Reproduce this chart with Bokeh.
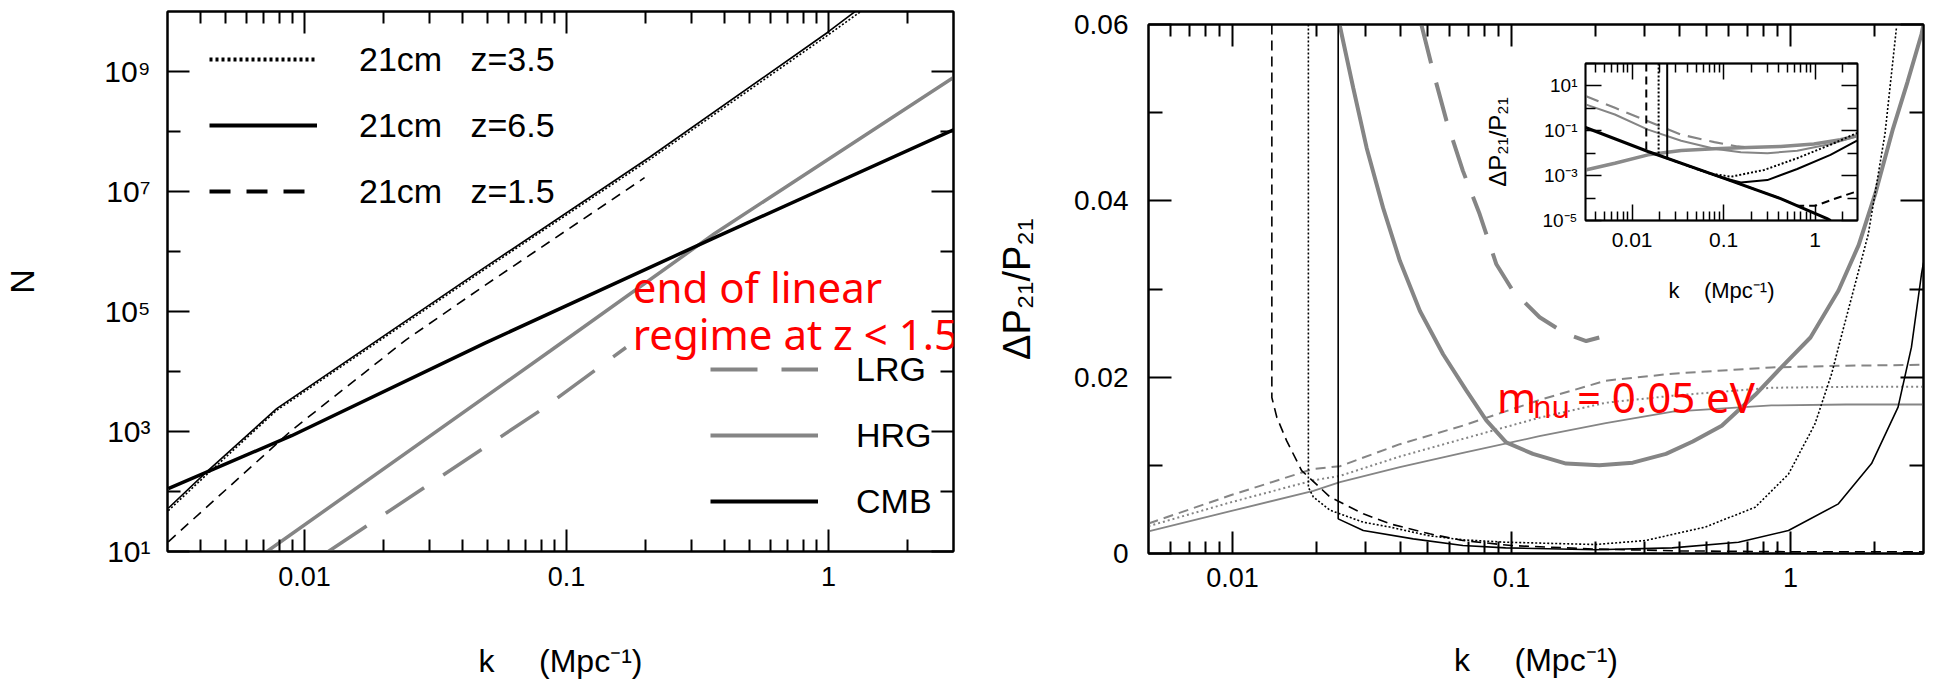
from math import pi
from bokeh.plotting import figure
from bokeh.models import (Range1d, FixedTicker, LogAxis, LinearAxis, Legend,
                          LegendItem, Label, GridBox)
from bokeh.embed import file_html
from bokeh.resources import INLINE

FONT = "Liberation Sans"
RED_FONT = "Noto Sans"
GRAY = "#858585"
NB = "\u00a0"

# ---------------- Left panel: number of modes N(k) ----------------
k_z35 = [0.00302, 0.00417, 0.00783, 0.0486, 0.2075, 0.991, 1.349]
N_z35 = [47.9, 180, 2250, 5.0e5, 3.4e7, 4.0e9, 1.05e10]
k_z65 = [0.00302, 0.00417, 0.00783, 0.0486, 0.2075, 0.991, 1.29]
N_z65 = [52.5, 200, 2400, 5.37e5, 3.72e7, 4.47e9, 1.07e10]
k_z15 = [0.00302, 0.00501, 0.00893, 0.02427, 0.0486, 0.1986]
N_z15 = [14.5, 107, 1047, 3.31e4, 2.69e5, 1.70e7]
k_cmb = [0.00302, 0.00893, 0.0486, 0.368, 3.0]
N_cmb = [112, 851, 2.95e4, 1.70e6, 1.07e8]
k_hrg = [0.00719, 0.0871, 0.368, 3.0]
N_hrg = [10, 2.24e4, 2.0e6, 7.94e8]
k_lrg = [0.01233, 0.0794, 0.1687]
N_lrg = [10, 2239, 2.51e4]

left_legend_top = ["21cm" + NB * 3 + "z=3.5", "21cm" + NB * 3 + "z=6.5", "21cm" + NB * 3 + "z=1.5"]
left_legend_bottom = ["LRG", "HRG", "CMB"]
left_xticks = [0.01, 0.1, 1]
left_xlabels = ["0.01", "0.1", "1"]
left_yticks = [1e1, 1e3, 1e5, 1e7, 1e9]
left_ylabels = ["10\u00b9", "10\u00b3", "10\u2075", "10\u2077", "10\u2079"]
left_yminor = [1e2, 1e4, 1e6, 1e8]

# ---------------- Right panel: Delta P21 / P21 ----------------
k_r15 = [0.01384, 0.01384, 0.01442, 0.01563, 0.0177, 0.02239, 0.02944, 0.03664,
         0.05093, 0.06699, 0.1, 0.2, 0.4, 1.0, 3.0]
v_r15 = [0.06, 0.0177, 0.01545, 0.0128, 0.0094, 0.0064, 0.0045, 0.00337,
         0.00223, 0.00147, 0.0009, 0.0005, 0.0003, 0.0002, 0.0002]
k_r35 = [0.01871, 0.01871, 0.0195, 0.02239, 0.02944, 0.03664, 0.05093, 0.06699,
         0.09528, 0.2, 0.302, 0.4955, 0.748, 0.984, 1.225, 1.406, 1.507, 1.901,
         2.183, 2.399]
v_r35 = [0.06, 0.0075, 0.0064, 0.0049, 0.00355, 0.0030, 0.0020, 0.00155,
         0.00128, 0.00102, 0.00147, 0.0030, 0.00525, 0.0090, 0.0147, 0.0204,
         0.0241, 0.0362, 0.0476, 0.0596]
k_r65 = [0.02393, 0.02393, 0.02944, 0.04446, 0.06699, 0.09528, 0.2, 0.3767,
         0.6516, 0.984, 1.486, 1.954, 2.432, 2.716, 2.951, 3.0]
v_r65 = [0.06, 0.00393, 0.0026, 0.00166, 0.0009, 0.00064, 0.00042, 0.00064,
         0.00128, 0.0026, 0.00563, 0.0102, 0.0166, 0.0234, 0.0317, 0.033]
k_thin = [0.005, 0.00984, 0.0195, 0.02427, 0.0398, 0.067, 0.1259, 0.2178,
          0.3784, 0.855, 1.585, 3.0]
v_thin_dash = [0.0034, 0.0066, 0.0096, 0.0099, 0.0124, 0.0145, 0.0174, 0.0196,
               0.0204, 0.0211, 0.0213, 0.0214]
v_thin_dot = [0.0031, 0.0058, 0.0083, 0.0088, 0.0110, 0.0130, 0.0154, 0.0171,
              0.0179, 0.0188, 0.0189, 0.0189]
v_thin_solid = [0.0025, 0.0048, 0.0071, 0.0081, 0.0098, 0.0114, 0.0133, 0.0148,
                0.0161, 0.0168, 0.0169, 0.0169]
k_hrg_r = [0.0242, 0.0271, 0.03027, 0.03467, 0.03981, 0.04699, 0.05689, 0.06887,
           0.08128, 0.09572, 0.1194, 0.157, 0.2065, 0.2723, 0.3581, 0.4467,
           0.5675, 0.7482, 0.9333, 1.180, 1.486, 1.758, 2.023, 2.333, 2.630,
           2.951, 3.0]
v_hrg_r = [0.0600, 0.0528, 0.0460, 0.0392, 0.0332, 0.0275, 0.0226, 0.0185,
           0.0151, 0.0126, 0.0113, 0.0102, 0.0100, 0.0103, 0.0113, 0.0127,
           0.0145, 0.0180, 0.0212, 0.0245, 0.0298, 0.0350, 0.0410, 0.0482,
           0.0535, 0.0589, 0.0600]
k_lrg_r = [0.04753, 0.05236, 0.05848, 0.06699, 0.07691, 0.08831, 0.1012, 0.1262,
           0.157, 0.1854, 0.2065]
v_lrg_r = [0.0600, 0.0547, 0.0491, 0.0434, 0.0385, 0.0328, 0.0298, 0.0268,
           0.0249, 0.0241, 0.0245]

right_yticks = [0, 0.02, 0.04, 0.06]
right_ylabels = ["0", "0.02", "0.04", "0.06"]
right_yminor = [0.01, 0.03, 0.05]

# ---------------- Inset (log-log) ----------------
ki_common = [0.0031, 0.01493, 0.1016, 0.4198, 1.349, 1.479]
vi_common = [0.14, 0.0119, 7.53e-4, 9.51e-5, 1.20e-5, 1.0e-5]
ki_15 = [0.0143, 0.0143, 0.1016, 0.4198, 0.637, 1.0, 1.585, 2.864]
vi_15 = [100, 0.0127, 7.53e-4, 9.51e-5, 4.5e-5, 4.5e-5, 8.9e-5, 2.0e-4]
ki_35 = [0.0195, 0.0195, 0.067, 0.1202, 0.2767, 0.6368, 1.469, 2.864]
vi_35 = [100, 0.0081, 1.3e-3, 8.95e-4, 1.79e-3, 5.98e-3, 0.0238, 0.0796]
ki_65 = [0.0242, 0.0242, 0.0935, 0.1542, 0.3006, 0.6368, 1.469, 2.864]
vi_65 = [100, 5.9e-3, 8.5e-4, 4.97e-4, 6.34e-4, 1.98e-3, 8.45e-3, 0.036]
ki_lrg = [0.0031, 0.00649, 0.01493, 0.03436, 0.07925, 0.1419, 0.2]
vi_lrg = [3.55, 1.06, 0.267, 0.067, 0.0313, 0.02, 0.018]
ki_hrg = [0.0031, 0.00649, 0.01493, 0.03436, 0.07925, 0.1542, 0.3006, 0.6368, 1.469, 2.864]
vi_hrg = [1.50, 0.532, 0.1125, 0.036, 0.0157, 0.0111, 0.0100, 0.0128, 0.0255, 0.0564]
ki_mnu = [0.0031, 0.00649, 0.01493, 0.03436, 0.07925, 0.1824, 0.4198, 0.9683, 1.884, 2.864]
vi_mnu = [1.79e-3, 3.56e-3, 8.45e-3, 0.0132, 0.0157, 0.018, 0.02, 0.0255, 0.0399, 0.0604]
inset_yticks = [1e-5, 1e-3, 1e-1, 1e1]
inset_ylabels = ["10\u207b\u2075", "10\u207b\u00b3", "10\u207b\u00b9", "10\u00b9"]
inset_yminor = [1e-4, 1e-2, 1.0, 1e2]


def minor_log(lo, hi):
    out = []
    for e in range(-4, 2):
        for m in range(2, 10):
            v = round(m * 10.0 ** e, 6)
            if lo < v < hi:
                out.append(v)
    return out


def style_axis(ax, major_in, minor_in, size=None, standoff=15, lw=2, ticks=None):
    ax.major_tick_in = major_in
    ax.major_tick_out = 0
    ax.minor_tick_in = minor_in
    ax.minor_tick_out = 0
    ax.major_tick_line_width = lw
    ax.minor_tick_line_width = lw
    ax.major_tick_line_color = "black"
    ax.minor_tick_line_color = "black"
    ax.axis_line_width = lw
    ax.axis_line_color = "black"
    ax.major_label_text_font = FONT
    ax.major_label_text_color = "black"
    ax.axis_label_text_font = FONT
    ax.axis_label_text_font_style = "normal"
    ax.axis_label_text_color = "black"
    if size is None:
        ax.major_label_text_font_size = "1px"
        ax.major_label_standoff = 0
        if ticks is not None:
            ax.major_label_overrides = {t: "" for t in ticks}
    else:
        ax.major_label_text_font_size = size
        ax.major_label_standoff = standoff


def base_fig(**kw):
    p = figure(output_backend="svg", toolbar_location=None, **kw)
    p.title.visible = False
    p.grid.visible = False
    p.outline_line_color = "black"
    p.outline_line_width = 2
    return p


# =================== LEFT FIGURE ===================
p1 = base_fig(x_axis_type="log", y_axis_type="log",
              x_range=Range1d(0.003, 3), y_range=Range1d(10, 1e10),
              frame_width=793, frame_height=540,
              min_border_left=160, min_border_right=40,
              min_border_top=11, min_border_bottom=136)
xt1 = FixedTicker(ticks=left_xticks, minor_ticks=minor_log(0.003, 3))
yt1 = FixedTicker(ticks=left_yticks, minor_ticks=left_yminor)
p1.xaxis.ticker = xt1
p1.yaxis.ticker = yt1
style_axis(p1.xaxis[0], 22, 12, "27px", 15)
style_axis(p1.yaxis[0], 22, 13, "30px", 17)
p1.xaxis.major_label_overrides = dict(zip(left_xticks, left_xlabels))
p1.yaxis.major_label_overrides = dict(zip(left_yticks, left_ylabels))
p1.xaxis.axis_label = "k" + NB * 5 + "(Mpc\u207b\u00b9)"
p1.xaxis.axis_label_text_font_size = "32px"
p1.xaxis.axis_label_standoff = 54
p1.yaxis.axis_label = "N"
p1.yaxis.axis_label_text_font_size = "34px"
p1.yaxis.axis_label_standoff = 60
top1 = LogAxis(ticker=xt1)
style_axis(top1, 22, 12, ticks=left_xticks)
p1.add_layout(top1, "above")
right1 = LogAxis(ticker=yt1)
style_axis(right1, 22, 13, ticks=left_yticks)
p1.add_layout(right1, "right")

p1.line(k_hrg, N_hrg, line_color=GRAY, line_width=3.5)
p1.line(k_lrg, N_lrg, line_color=GRAY, line_width=3.5, line_dash="46 23")
p1.line(k_cmb, N_cmb, line_color="black", line_width=3.5)
p1.line(k_z65, N_z65, line_color="black", line_width=1.6)
p1.line(k_z35, N_z35, line_color="black", line_width=1.6, line_dash="2 2")
p1.line(k_z15, N_z15, line_color="black", line_width=1.6, line_dash="10 7")

# hidden copies of the series, styled like the legend samples
lg_dot = p1.line(k_z35, N_z35, line_color="black", line_width=4, line_dash="3 3", visible=False)
lg_sol = p1.line(k_z65, N_z65, line_color="black", line_width=4, visible=False)
lg_dash = p1.line(k_z15, N_z15, line_color="black", line_width=4, line_dash="21 16", visible=False)
lg_lrg = p1.line(k_lrg, N_lrg, line_color=GRAY, line_width=4, line_dash="47 24", visible=False)
lg_hrg = p1.line(k_hrg, N_hrg, line_color=GRAY, line_width=4, visible=False)
lg_cmb = p1.line(k_cmb, N_cmb, line_color="black", line_width=4, visible=False)


def make_legend(labels, rends, loc, standoff):
    return Legend(items=[LegendItem(label=l, renderers=[r]) for l, r in zip(labels, rends)],
                  location=loc, orientation="vertical", glyph_width=108, glyph_height=40,
                  label_height=40, label_standoff=standoff, spacing=26, padding=0, margin=0,
                  border_line_color=None, background_fill_alpha=0,
                  label_text_font=FONT, label_text_font_size="34px",
                  label_text_color="black", click_policy="none")


p1.add_layout(make_legend(left_legend_top, [lg_dot, lg_sol, lg_dash], (42, 340), 42))
p1.add_layout(make_legend(left_legend_bottom, [lg_lrg, lg_hrg, lg_cmb], (543, 30), 38))

p1.add_layout(Label(x=0.179, y=2.61e5, text="end of linear", text_font=RED_FONT,
                    text_font_size="42px", text_color="#ff0000", text_baseline="alphabetic"))
p1.add_layout(Label(x=0.179, y=4.3e4, text="regime at z < 1.5", text_font=RED_FONT,
                    text_font_size="42px", text_color="#ff0000", text_baseline="alphabetic"))

# =================== RIGHT FIGURE ===================
p2 = base_fig(x_axis_type="log", x_range=Range1d(0.005, 3), y_range=Range1d(0, 0.06),
              frame_width=778, frame_height=529,
              min_border_left=152, min_border_right=13,
              min_border_top=24, min_border_bottom=134)
xt2 = FixedTicker(ticks=left_xticks, minor_ticks=minor_log(0.005, 3))
yt2 = FixedTicker(ticks=right_yticks, minor_ticks=right_yminor)
p2.xaxis.ticker = xt2
p2.yaxis.ticker = yt2
style_axis(p2.xaxis[0], 22, 12, "27px", 14)
style_axis(p2.yaxis[0], 23, 14, "28px", 20)
p2.xaxis.major_label_overrides = dict(zip(left_xticks, left_xlabels))
p2.yaxis.major_label_overrides = dict(zip(right_yticks, right_ylabels))
p2.xaxis.axis_label = "k" + NB * 5 + "(Mpc\u207b\u00b9)"
p2.xaxis.axis_label_text_font_size = "32px"
p2.xaxis.axis_label_standoff = 52
p2.yaxis.axis_label = "\u0394P\u2082\u2081/P\u2082\u2081"
p2.yaxis.axis_label_text_font_size = "38px"
p2.yaxis.axis_label_standoff = 33
top2 = LogAxis(ticker=xt2)
style_axis(top2, 22, 12, ticks=left_xticks)
p2.add_layout(top2, "above")
right2 = LinearAxis(ticker=yt2)
style_axis(right2, 23, 14, ticks=right_yticks)
p2.add_layout(right2, "right")

p2.line(k_thin, v_thin_dash, line_color=GRAY, line_width=2, line_dash="10 6")
p2.line(k_thin, v_thin_dot, line_color=GRAY, line_width=2, line_dash="2 3")
p2.line(k_thin, v_thin_solid, line_color=GRAY, line_width=1.8)
p2.line(k_hrg_r, v_hrg_r, line_color=GRAY, line_width=4)
p2.line(k_lrg_r, v_lrg_r, line_color=GRAY, line_width=4, line_dash="40 20")
p2.line(k_r15, v_r15, line_color="black", line_width=1.6, line_dash="10 6")
p2.line(k_r35, v_r35, line_color="black", line_width=1.6, line_dash="2 2")
p2.line(k_r65, v_r65, line_color="black", line_width=1.6)

p2.add_layout(Label(x=0.0887, y=0.0178, text="m", text_font=RED_FONT,
                    text_font_size="42px", text_color="#ff0000", text_baseline="alphabetic"))
p2.add_layout(Label(x=0.0887, y=0.0178, x_offset=36, y_offset=-10, text="nu", text_font=RED_FONT,
                    text_font_size="30px", text_color="#ff0000", text_baseline="alphabetic"))
p2.add_layout(Label(x=0.0887, y=0.0178, x_offset=80, text="= 0.05 eV", text_font=RED_FONT,
                    text_font_size="42px", text_color="#ff0000", text_baseline="alphabetic"))

# =================== INSET FIGURE ===================
p3 = base_fig(x_axis_type="log", y_axis_type="log",
              x_range=Range1d(0.0031, 2.9), y_range=Range1d(1e-5, 1e2),
              frame_width=272, frame_height=157,
              min_border_left=115, min_border_right=13,
              min_border_top=8, min_border_bottom=90,
              border_fill_alpha=0, background_fill_color="white")
p3.outline_line_width = 1.8
xt3 = FixedTicker(ticks=left_xticks, minor_ticks=minor_log(0.0031, 2.9))
yt3 = FixedTicker(ticks=inset_yticks, minor_ticks=inset_yminor)
p3.xaxis.ticker = xt3
p3.yaxis.ticker = yt3
style_axis(p3.xaxis[0], 16, 9, "21px", 12, lw=1.5)
style_axis(p3.yaxis[0], 16, 10, "19px", 8, lw=1.5)
p3.xaxis.major_label_overrides = dict(zip(left_xticks, left_xlabels))
p3.yaxis.major_label_overrides = dict(zip(inset_yticks, inset_ylabels))
p3.xaxis.axis_label = "k" + NB * 4 + "(Mpc\u207b\u00b9)"
p3.xaxis.axis_label_text_font_size = "22px"
p3.xaxis.axis_label_standoff = 28
p3.yaxis.axis_label = "\u0394P\u2082\u2081/P\u2082\u2081"
p3.yaxis.axis_label_text_font_size = "24px"
p3.yaxis.axis_label_standoff = 28
top3 = LogAxis(ticker=xt3)
style_axis(top3, 16, 9, lw=1.5, ticks=left_xticks)
p3.add_layout(top3, "above")
right3 = LogAxis(ticker=yt3)
style_axis(right3, 16, 10, lw=1.5, ticks=inset_yticks)
p3.add_layout(right3, "right")

p3.line(ki_mnu, vi_mnu, line_color="#8a8a8a", line_width=3.5)
p3.line(ki_hrg, vi_hrg, line_color=GRAY, line_width=2)
p3.line(ki_lrg, vi_lrg, line_color=GRAY, line_width=2.2, line_dash="14 8")
p3.line(ki_common, vi_common, line_color="black", line_width=3)
p3.line(ki_15, vi_15, line_color="black", line_width=2, line_dash="8 5")
p3.line(ki_35, vi_35, line_color="black", line_width=2, line_dash="2 2")
p3.line(ki_65, vi_65, line_color="black", line_width=2)

# zero-height first/last rows keep the two main panels from sharing row edges,
# so their frames are not aligned to each other
grid = GridBox(children=[(p1, 0, 0, 5, 1), (p2, 1, 1, 3, 3), (p3, 2, 2, 1, 1)],
               rows=["0px", "55px", "255px", "377px", "0px"],
               cols=["993px", "477px", "400px", "66px"], spacing=0)

open("out.html", "w").write(file_html(grid, INLINE, "plot"))
